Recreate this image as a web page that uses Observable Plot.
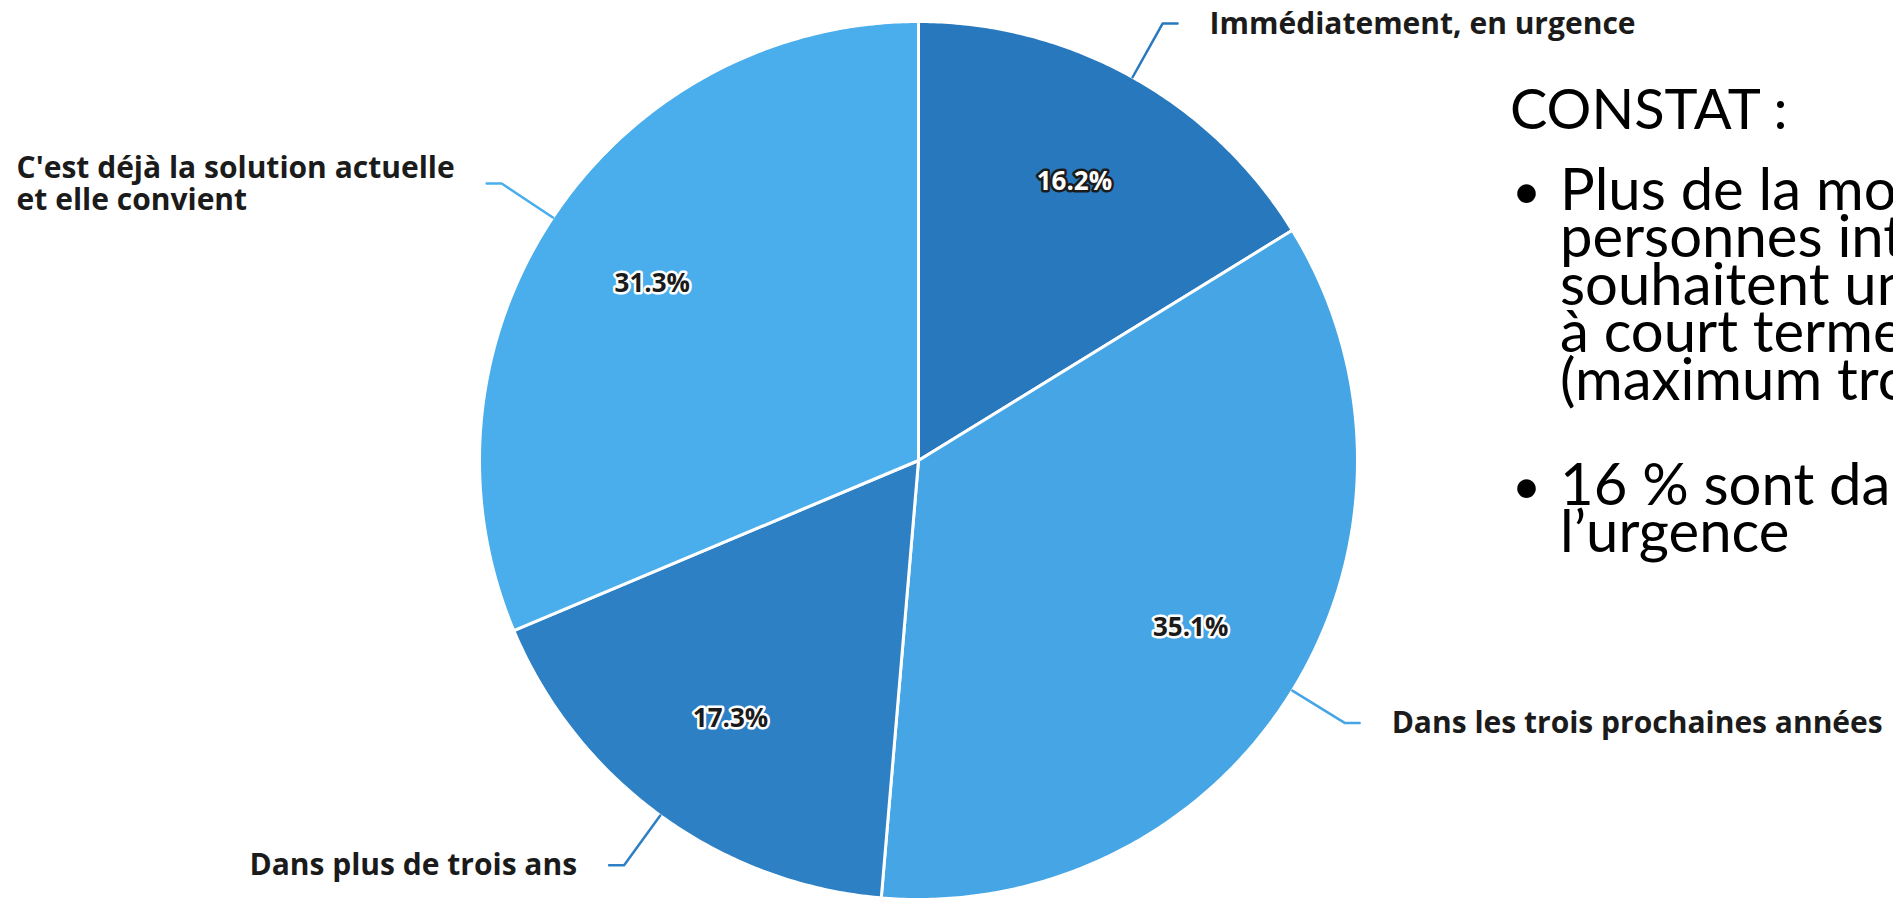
<!DOCTYPE html>
<html><head><meta charset="utf-8">
<script src="https://cdn.jsdelivr.net/npm/d3@7"></script>
<script src="https://cdn.jsdelivr.net/npm/@observablehq/plot@0.6"></script>
<style>
html,body{margin:0;padding:0;background:#fff;width:1893px;height:901px;overflow:hidden;}
#chart{position:absolute;left:0;top:0;}
#note{position:absolute;left:1510px;top:0;width:383px;height:901px;overflow:hidden;font-family:Lato,"Open Sans",sans-serif;color:#000;white-space:nowrap;}
#note div{position:absolute;}
</style></head><body>
<div id="chart"></div>
<div id="note"></div>
<script>
// ---- data ----
const categories = ["Immédiatement, en urgence", "Dans les trois prochaines années", "Dans plus de trois ans", "C'est déjà la solution actuelle\net elle convient"];
const shares = [16.2, 35.1, 17.3, 31.3];
const sliceColors = ["#2878bd", "#46a6e5", "#2e80c4", "#4aaeec"];
const pctLabels = ["16.2%", "35.1%", "17.3%", "31.3%"];
const noteTitle = "CONSTAT :";
const noteBullets = [
  ["Plus de la moitié des", "personnes interrogées", "souhaitent une solution", "à court terme", "(maximum trois ans)"],
  ["16 % sont dans", "l’urgence"]
];

// ---- geometry ----
const W = 1893, H = 901, cx = 918, cy = 460, Rpx = 439;
const labelFont = "Open Sans", labelSize = 30;
const total = d3.sum(shares);
const pt = (a, r) => ({x: r * Math.sin(a), y: r * Math.cos(a)});
let acc = 0;
const slices = shares.map((v, i) => {
  const a0 = acc / total * 2 * Math.PI; acc += v;
  const a1 = acc / total * 2 * Math.PI;
  return {cat: categories[i], a0, a1, mid: (a0 + a1) / 2, label: pctLabels[i], i};
});
const slicePts = [];
for (const s of slices) {
  slicePts.push({cat: s.cat, ...pt(0, 0)});
  const n = Math.max(2, Math.ceil((s.a1 - s.a0) / (Math.PI / 360)));
  for (let k = 0; k <= n; k++) slicePts.push({cat: s.cat, ...pt(s.a0 + (s.a1 - s.a0) * k / n, 1)});
}
const ctx = document.createElement("canvas").getContext("2d");
ctx.font = `700 ${labelSize}px "${labelFont}"`;
const textW = t => d3.max(t.split("\n"), l => ctx.measureText(l).width);
const elbowR = 1.14, hLen = 15 / Rpx, gap = 32;
const leaderPts = [], catText = [];
for (const s of slices) {
  const side = Math.sin(s.mid) >= 0 ? 1 : -1;
  const e = pt(s.mid, 1), b = pt(s.mid, elbowR);
  const end = {x: b.x + side * hLen, y: b.y};
  leaderPts.push({cat: s.cat, ...e}, {cat: s.cat, ...b}, {cat: s.cat, ...end});
  catText.push({cat: s.cat, x: end.x, y: end.y, dx: side > 0 ? gap : -(gap + textW(s.cat))});
}
const pctPts = slices.map(s => ({...pt(s.mid, 0.728), label: s.label, dark: s.i === 0}));

const chart = Plot.plot({
  width: W, height: H, margin: 0,
  x: {domain: [-cx / Rpx, (W - cx) / Rpx], axis: null},
  y: {domain: [-(H - cy) / Rpx, cy / Rpx], axis: null},
  color: {domain: categories, range: sliceColors},
  style: {background: "white"},
  marks: [
    Plot.line(slicePts, {x: "x", y: "y", z: "cat", fill: "cat", stroke: "white", strokeWidth: 3, strokeLinejoin: "round", curve: "linear-closed"}),
    Plot.line(leaderPts, {x: "x", y: "y", z: "cat", stroke: "cat", strokeWidth: 2.5}),
    ...catText.map(d => Plot.text([d], {x: "x", y: "y", text: "cat", dx: d.dx, textAnchor: "start", fontSize: labelSize, fontWeight: 700, fontFamily: labelFont, fill: "#1b1b1b", lineHeight: 1.07})),
    Plot.text(pctPts.filter(d => !d.dark), {x: "x", y: "y", text: "label", fontSize: 26, fontWeight: 700, fontFamily: "Open Sans", fill: "#1b1b1b", stroke: "white", strokeWidth: 5, strokeLinejoin: "round", paintOrder: "stroke"}),
    Plot.text(pctPts.filter(d => d.dark), {x: "x", y: "y", text: "label", fontSize: 26, fontWeight: 700, fontFamily: "Open Sans", fill: "white", stroke: "#1b1b1b", strokeWidth: 5, strokeLinejoin: "round", paintOrder: "stroke"})
  ]
});
document.getElementById("chart").appendChild(chart);

// ---- note panel (positioned by baselines) ----
const note = document.getElementById("note");
const ASC = 0.987, DESC = 0.213;
function addBlock(html, left, baseline, size, lh) {
  const d = document.createElement("div");
  d.innerHTML = html;
  d.style.left = left + "px";
  d.style.fontSize = size + "px";
  d.style.lineHeight = lh + "px";
  const half = (lh - (ASC + DESC) * size) / 2;
  d.style.top = (baseline - half - ASC * size) + "px";
  note.appendChild(d);
}
const titleSize = 56, bodySize = 58, lh = 47.5;
addBlock(noteTitle, 0, 130, titleSize, 56);
let base = 210;
noteBullets.forEach((lines, bi) => {
  if (bi > 0) base += 57.5;
  addBlock("•", 2, base, 50, lh);
  addBlock(lines.join("<br>"), 50, base, bodySize, lh);
  base += lines.length * lh;
});
</script>
</body></html>
